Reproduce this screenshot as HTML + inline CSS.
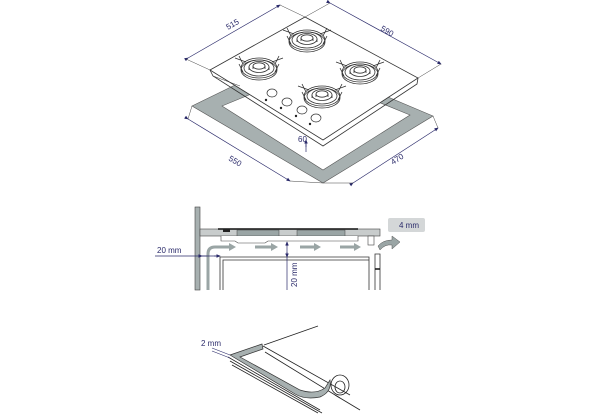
<!DOCTYPE html>
<html><head><style>
html,body{margin:0;padding:0;background:#fff;width:600px;height:415px;overflow:hidden}
svg{display:block}
text{font-family:"Liberation Sans",sans-serif;font-size:8px;fill:#2a2a6a}
</style></head><body>
<svg width="600" height="415" viewBox="0 0 600 415" xmlns="http://www.w3.org/2000/svg">
<defs>
<marker id="a" markerWidth="6" markerHeight="6" refX="5" refY="3" orient="auto"><path d="M0,0.5 L6,3 L0,5.5z" fill="#2a2a6a"/></marker>
<g id="burner" fill="none" stroke="#333" stroke-width="0.8">
<ellipse cx="0" cy="0" rx="18" ry="10"/>
<ellipse cx="0" cy="0" rx="15" ry="8"/>
<ellipse cx="0" cy="-1" rx="10" ry="5.5"/>
<ellipse cx="0" cy="-2" rx="6" ry="3.2"/>
<path d="M-6,-2v3M6,-2v3M-10,-1v3M10,-1v3"/>
<path d="M-16,-4 L-20,-12 M-13,-6 L-24,-10 M16,-4 L20,-12 M13,-6 L24,-10 M-16,4 L-20,-4 M16,4 L20,-4"/>
<ellipse cx="0" cy="2" rx="18" ry="10"/>
</g>
</defs>
<!-- gasket frame -->
<path d="M192,106 L233,86 L300,60 L433,116 L323,183 Z M222,106 L323,170 L410,115 L305,72 Z" fill="#a7b0b0" fill-rule="evenodd" stroke="#555" stroke-width="0.6"/>
<!-- glass top -->
<path d="M210,70 L305,17 L418,78 L323,140 Z" fill="#fff" stroke="#333" stroke-width="0.8"/>
<path d="M210,70 L213,76 L323,146 L417,84 L418,78" fill="none" stroke="#333" stroke-width="0.8"/>
<path d="M213,76 L240,86" stroke="#333" stroke-width="0.5"/>
<use href="#burner" x="307" y="40"/>
<use href="#burner" x="259" y="68"/>
<use href="#burner" x="360" y="72"/>
<use href="#burner" x="322" y="96"/>
<g fill="#fff" stroke="#333" stroke-width="0.7">
<ellipse cx="272" cy="93" rx="5" ry="4"/><ellipse cx="287" cy="102" rx="5" ry="4"/>
<ellipse cx="302" cy="110" rx="5" ry="4"/><ellipse cx="316" cy="118" rx="5" ry="4"/>
</g>
<g fill="#222"><circle cx="266" cy="100" r="1.2"/><circle cx="281" cy="108" r="1.2"/><circle cx="296" cy="116" r="1.2"/><circle cx="310" cy="124" r="1.2"/></g>
<!-- dimension lines -->
<g stroke="#2a2a6a" stroke-width="0.7" fill="none">
<line x1="188" y1="58" x2="280" y2="5" marker-start="url(#a)" marker-end="url(#a)"/>
<line x1="330" y1="3" x2="441" y2="64" marker-start="url(#a)" marker-end="url(#a)"/>
<line x1="188" y1="119" x2="290" y2="181" marker-start="url(#a)" marker-end="url(#a)"/>
<line x1="353" y1="183" x2="438" y2="128" marker-start="url(#a)" marker-end="url(#a)"/>
<line x1="306" y1="147" x2="306" y2="140" marker-end="url(#a)"/>
<line x1="306" y1="152" x2="306" y2="142"/>
</g>
<g stroke="#444" stroke-width="0.5">
<line x1="280" y1="5" x2="305" y2="17"/><line x1="186" y1="59" x2="210" y2="70"/>
<line x1="330" y1="3" x2="305" y2="17"/><line x1="441" y1="64" x2="418" y2="78"/>
<line x1="188" y1="119" x2="192" y2="106"/><line x1="290" y1="181" x2="323" y2="183"/>
<line x1="353" y1="183" x2="323" y2="183"/><line x1="438" y1="128" x2="433" y2="116"/>
</g>
<text x="228" y="30" transform="rotate(-30 228 30)">515</text>
<text x="380" y="30" transform="rotate(30 380 30)">590</text>
<text x="228" y="160" transform="rotate(30 228 160)">550</text>
<text x="393" y="165" transform="rotate(-33 393 165)">470</text>
<text x="298" y="142">60</text>
<!-- middle section -->
<rect x="195" y="207" width="5" height="83" fill="#a7b0b0" stroke="#444" stroke-width="0.6"/>
<rect x="200" y="229" width="180" height="7" fill="#c8cccc" stroke="#444" stroke-width="0.6"/>
<path d="M218,229 L358,229" stroke="#111" stroke-width="1.5"/>
<rect x="223" y="229" width="7" height="3" fill="#222"/>
<rect x="237" y="230" width="42" height="6" fill="#9aa5a5" stroke="#444" stroke-width="0.5"/>
<rect x="297" y="230" width="48" height="6" fill="#9aa5a5" stroke="#444" stroke-width="0.5"/>
<path d="M221,236 L221,241 L235,241 L238,243 L265,243 L268,241 L358,241 L358,236" fill="#fff" stroke="#444" stroke-width="0.6"/>
<rect x="368" y="236" width="6" height="9" fill="#fff" stroke="#444" stroke-width="0.6"/>
<path d="M220,290 V257 H369 V290 M223,290 V260 H369" fill="none" stroke="#333" stroke-width="0.8"/>
<path d="M375,290 V254 H380 V290" fill="#fff" stroke="#333" stroke-width="0.8"/>
<line x1="375" y1="269" x2="380" y2="269" stroke="#111" stroke-width="1.5"/>
<!-- air arrows -->
<g fill="none" stroke="#9aa5a5" stroke-width="3">
<path d="M208,290 V254 Q208,247 215,247 H230"/>
<path d="M255,247 H272"/><path d="M300,247 H315"/><path d="M340,247 H355"/>
</g>
<g fill="#9aa5a5">
<path d="M229,243 L236,247 L229,251z"/><path d="M271,243 L278,247 L271,251z"/>
<path d="M314,243 L321,247 L314,251z"/><path d="M354,243 L361,247 L354,251z"/>
<path d="M378,246 Q383,240 392,240 L392,236 L400,242 L392,249 L392,245 Q385,244 380,250z" stroke="#555" stroke-width="0.5"/>
</g>
<rect x="388" y="218" width="37" height="14" rx="2" fill="#d4d7d8"/>
<text x="399" y="228">4 mm</text>
<g stroke="#2a2a6a" stroke-width="0.7" fill="none">
<line x1="155" y1="256" x2="218" y2="256"/>
<line x1="202" y1="256" x2="207" y2="256" marker-start="url(#a)"/>
<line x1="214" y1="256" x2="220" y2="256" marker-end="url(#a)"/>
<line x1="287" y1="242" x2="287" y2="290"/>
<line x1="287" y1="246" x2="287" y2="242" marker-end="url(#a)"/>
<line x1="287" y1="252" x2="287" y2="257" marker-end="url(#a)"/>
</g>
<text x="157" y="253">20 mm</text>
<text x="297" y="287" transform="rotate(-90 297 287)">20 mm</text>
<!-- bottom detail -->
<g fill="none" stroke="#222" stroke-width="0.8">
<path d="M264,345 L318,326"/>
<path d="M228,357 L320,410 M230,361 L322,413 M232,365 L318,413"/>
<path d="M263,346 L350,395 M265,352 L340,398"/>
<path d="M335,395 L360,410"/>
<ellipse cx="340" cy="385" rx="9" ry="10"/>
<ellipse cx="340" cy="387" rx="5" ry="6"/>
</g>
<path d="M230,355 L262,344 L263,349 L240,357 L300,390 Q315,395 325,388 L330,380 Q332,392 320,397 Q305,400 295,394 Z" fill="#a7b0b0" stroke="#333" stroke-width="0.7"/>
<line x1="212" y1="348" x2="230" y2="355" stroke="#2a2a6a" stroke-width="0.6"/>
<line x1="212" y1="351" x2="230" y2="358" stroke="#2a2a6a" stroke-width="0.6"/>
<text x="201" y="346">2 mm</text>
</svg>
</body></html>
